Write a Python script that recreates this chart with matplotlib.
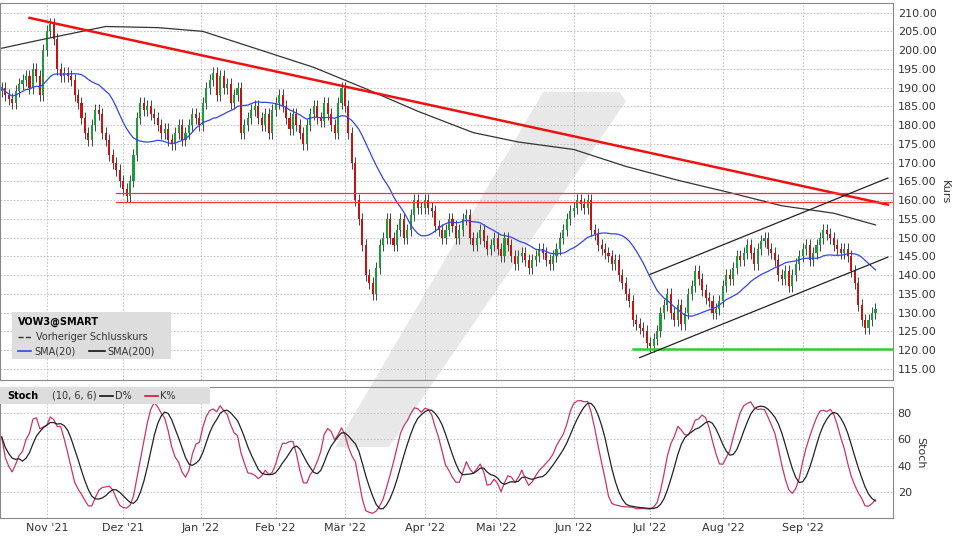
import numpy as np
import pandas as pd
import matplotlib
matplotlib.use("Agg")
import matplotlib.pyplot as plt
from matplotlib.patches import Rectangle, Polygon

# daily closes, Oct 13 2021 .. Sep 30 2022
closes = [
    190, 188, 187, 186, 189, 191, 192, 193, 190, 195, 193, 188, 200,
    205, 207, 203, 195, 193, 194, 193, 192, 188, 186, 182, 178, 176, 180, 184, 183, 178, 176, 172, 170, 168, 165,
    163, 161, 165, 172, 182, 186, 184, 185, 183, 182, 180, 178, 179, 176, 175, 178, 180, 176, 178, 180, 183, 182, 180,
    186, 190, 192, 194, 188, 193, 190, 191, 186, 188, 190, 178, 180, 182, 184, 185, 182, 180, 183, 178, 184,
    186, 188, 185, 182, 179, 183, 180, 178, 175, 180, 183, 185, 182, 181, 186, 183, 180, 178, 186, 190,
    185, 178, 170, 160, 155, 148, 140, 138, 135, 142, 148, 150, 155, 150, 148, 152, 155, 150, 152, 156, 160, 158, 158,
    160, 158, 157, 153, 152, 150, 152, 155, 153, 150, 152, 155, 156, 150, 148, 150, 152, 149, 147, 148, 150,
    147, 145, 150, 148, 145, 143, 145, 146, 144, 142, 144, 145, 147, 146, 144, 143, 145, 147, 150, 152, 155, 157,
    158, 160, 159, 158, 160, 152, 151, 148, 147, 146, 145, 143, 144, 140, 138, 135, 133, 128, 127, 126, 125, 122,
    121, 123, 125, 130, 132, 135, 130, 128, 132, 127, 130, 135, 137, 141, 139, 136, 134, 133, 130, 131, 133,
    137, 140, 139, 142, 145, 144, 146, 148, 146, 143, 147, 149, 150, 147, 146, 144, 140, 139, 141, 137, 140, 143, 145,
    147, 148, 144, 146, 148, 150, 152, 151, 150, 148, 147, 146, 147, 145, 141, 138, 132, 128, 126, 128, 130, 131,
]
wick = 1.6

sma200_dates = ["2021-10-13", "2021-10-27", "2021-11-24", "2021-12-15", "2022-01-03", "2022-01-24",
                "2022-02-16", "2022-03-09", "2022-03-30", "2022-04-21", "2022-05-10", "2022-06-01",
                "2022-06-22", "2022-07-13", "2022-08-03", "2022-08-24", "2022-09-14", "2022-09-30"]
sma200_vals = [200.5, 202.5, 206.3, 206.0, 205.0, 200.5, 195.4, 189.7, 183.7, 178.0, 175.5, 173.5,
               169.0, 165.3, 162.0, 158.5, 156.5, 153.4]

red_trend = (("2021-10-25", 208.6), ("2022-10-05", 158.8))
red_levels = [162.0, 159.6]
green_level = 120.3
chan_low = (("2022-06-28", 118.0), ("2022-10-05", 144.8))
chan_up = (("2022-07-01", 140.2), ("2022-10-05", 165.9))

price_ticks = np.arange(115, 211, 5)
stoch_ticks = [20, 40, 60, 80]
month_labels = ["Nov '21", "Dez '21", "Jan '22", "Feb '22", "Mär '22", "Apr '22",
                "Mai '22", "Jun '22", "Jul '22", "Aug '22", "Sep '22"]

dates = pd.bdate_range("2021-10-13", periods=len(closes))
df = pd.DataFrame({"close": closes}, index=dates)
df["open"] = df["close"].shift(1).fillna(df["close"].iloc[0] - 1)
df["high"] = df[["open", "close"]].max(axis=1) + wick
df["low"] = df[["open", "close"]].min(axis=1) - wick
df["sma20"] = df["close"].rolling(20, min_periods=1).mean()
ll = df["low"].rolling(10, min_periods=1).min()
hh = df["high"].rolling(10, min_periods=1).max()
fastk = (df["close"] - ll) / (hh - ll) * 100
df["k"] = fastk.rolling(6, min_periods=1).mean()
df["d"] = df["k"].rolling(6, min_periods=1).mean()

x = np.arange(len(df))
def xi(d):
    return np.interp(pd.Timestamp(d).value, dates.asi8, x, right=x[-1] + (pd.Timestamp(d) - dates[-1]).days * 5 / 7)

fig = plt.figure(figsize=(9.6, 5.4), dpi=100)
ax = fig.add_axes([0.0, 0.296, 0.930, 0.698])
ax2 = fig.add_axes([0.0, 0.041, 0.930, 0.242], sharex=ax)

# watermark (slanted logo band behind both panels)
ax.add_patch(Polygon([(0.349, 0.172), (0.405, 0.172), (0.652, 0.812), (0.645, 0.830), (0.566, 0.830)],
                     closed=True, transform=fig.transFigure, facecolor="#e8e8e8", edgecolor="none",
                     zorder=0.5, clip_on=False))
for a in (ax, ax2):
    a.set_facecolor("none")
    a.grid(True, color="#bbbbbb", linestyle=(0, (2, 2)), linewidth=0.6)
    a.yaxis.tick_right()
    a.tick_params(labelsize=8, length=0, colors="#333333")
    for s in a.spines.values():
        s.set_color("#888888")

for i, (o, h, l, c) in enumerate(zip(df["open"], df["high"], df["low"], df["close"])):
    col = "#1a9e3a" if c >= o else "#cc1111"
    ax.vlines(i, l, h, color="#444444", linewidth=0.7, zorder=2)
    ax.add_patch(Rectangle((i - 0.3, min(o, c)), 0.6, max(abs(c - o), 0.3), facecolor=col, edgecolor="none", zorder=3))

ax.plot(x, df["sma20"], color="#3344ee", linewidth=0.9, zorder=4)
ax.plot([xi(d) for d in sma200_dates], sma200_vals, color="#333333", linewidth=0.9, zorder=4)
ax.plot([xi(red_trend[0][0]), xi(red_trend[1][0])], [red_trend[0][1], red_trend[1][1]], color="#ee1111", linewidth=1.8, zorder=5)
for lv in red_levels:
    ax.plot([xi("2021-11-29"), x[-1] + 6], [lv, lv], color="#ff3333", linewidth=0.9, zorder=5)
ax.plot([xi("2022-06-24"), x[-1] + 6], [green_level, green_level], color="#33cc33", linewidth=1.8, zorder=5)
for p in (chan_low, chan_up):
    ax.plot([xi(p[0][0]), xi(p[1][0])], [p[0][1], p[1][1]], color="#222222", linewidth=0.9, zorder=5)

ax.set_xlim(-0.5, x[-1] + 5)
ax.set_ylim(112, 212.5)
ax.set_yticks(price_ticks)
ax.set_yticklabels([f"{v:.2f}" for v in price_ticks])
ax.yaxis.set_label_position("right")
ax.set_ylabel("Kurs", rotation=270, labelpad=10, fontsize=8, color="#333333")
plt.setp(ax.get_xticklabels(), visible=False)

# legend box
ax.add_patch(Rectangle((0.013, 0.055), 0.178, 0.125, transform=ax.transAxes, facecolor="#dddddd", edgecolor="none", zorder=6))
ax.text(0.02, 0.155, "VOW3@SMART", transform=ax.transAxes, fontsize=7, fontweight="bold", va="center", zorder=7)
ax.plot([0.02, 0.035], [0.115, 0.115], transform=ax.transAxes, color="#333333", linestyle="--", linewidth=1, zorder=7)
ax.text(0.04, 0.115, "Vorheriger Schlusskurs", transform=ax.transAxes, fontsize=7, va="center", color="#333333", zorder=7)
ax.plot([0.02, 0.035], [0.077, 0.077], transform=ax.transAxes, color="#3344ee", linewidth=1.2, zorder=7)
ax.text(0.038, 0.077, "SMA(20)", transform=ax.transAxes, fontsize=7, va="center", color="#333333", zorder=7)
ax.plot([0.100, 0.118], [0.077, 0.077], transform=ax.transAxes, color="#111111", linewidth=1.2, zorder=7)
ax.text(0.12, 0.077, "SMA(200)", transform=ax.transAxes, fontsize=7, va="center", color="#333333", zorder=7)

ax2.plot(x, df["k"], color="#cc3366", linewidth=0.9, zorder=3)
ax2.plot(x, df["d"], color="#222222", linewidth=0.9, zorder=3)
ax2.set_ylim(0, 100)
ax2.set_yticks(stoch_ticks)
ax2.yaxis.set_label_position("right")
ax2.set_ylabel("Stoch", rotation=270, labelpad=10, fontsize=8, color="#333333")
ax2.add_patch(Rectangle((0, 0.87), 0.235, 0.13, transform=ax2.transAxes, facecolor="#dddddd", edgecolor="none", zorder=6))
ax2.text(0.008, 0.935, "Stoch", transform=ax2.transAxes, fontsize=7, fontweight="bold", va="center", zorder=7)
ax2.text(0.058, 0.935, "(10, 6, 6)", transform=ax2.transAxes, fontsize=7, va="center", color="#333333", zorder=7)
ax2.plot([0.112, 0.127], [0.935, 0.935], transform=ax2.transAxes, color="#111111", linewidth=1.2, zorder=7)
ax2.text(0.129, 0.935, "D%", transform=ax2.transAxes, fontsize=7, va="center", color="#333333", zorder=7)
ax2.plot([0.162, 0.177], [0.935, 0.935], transform=ax2.transAxes, color="#dd1133", linewidth=1.2, zorder=7)
ax2.text(0.179, 0.935, "K%", transform=ax2.transAxes, fontsize=7, va="center", color="#333333", zorder=7)

month_pos = [xi(d) for d in pd.date_range("2021-11-01", periods=11, freq="MS")]
ax2.set_xticks(month_pos)
ax2.set_xticklabels(month_labels)

fig.savefig("out.png", dpi=100)
